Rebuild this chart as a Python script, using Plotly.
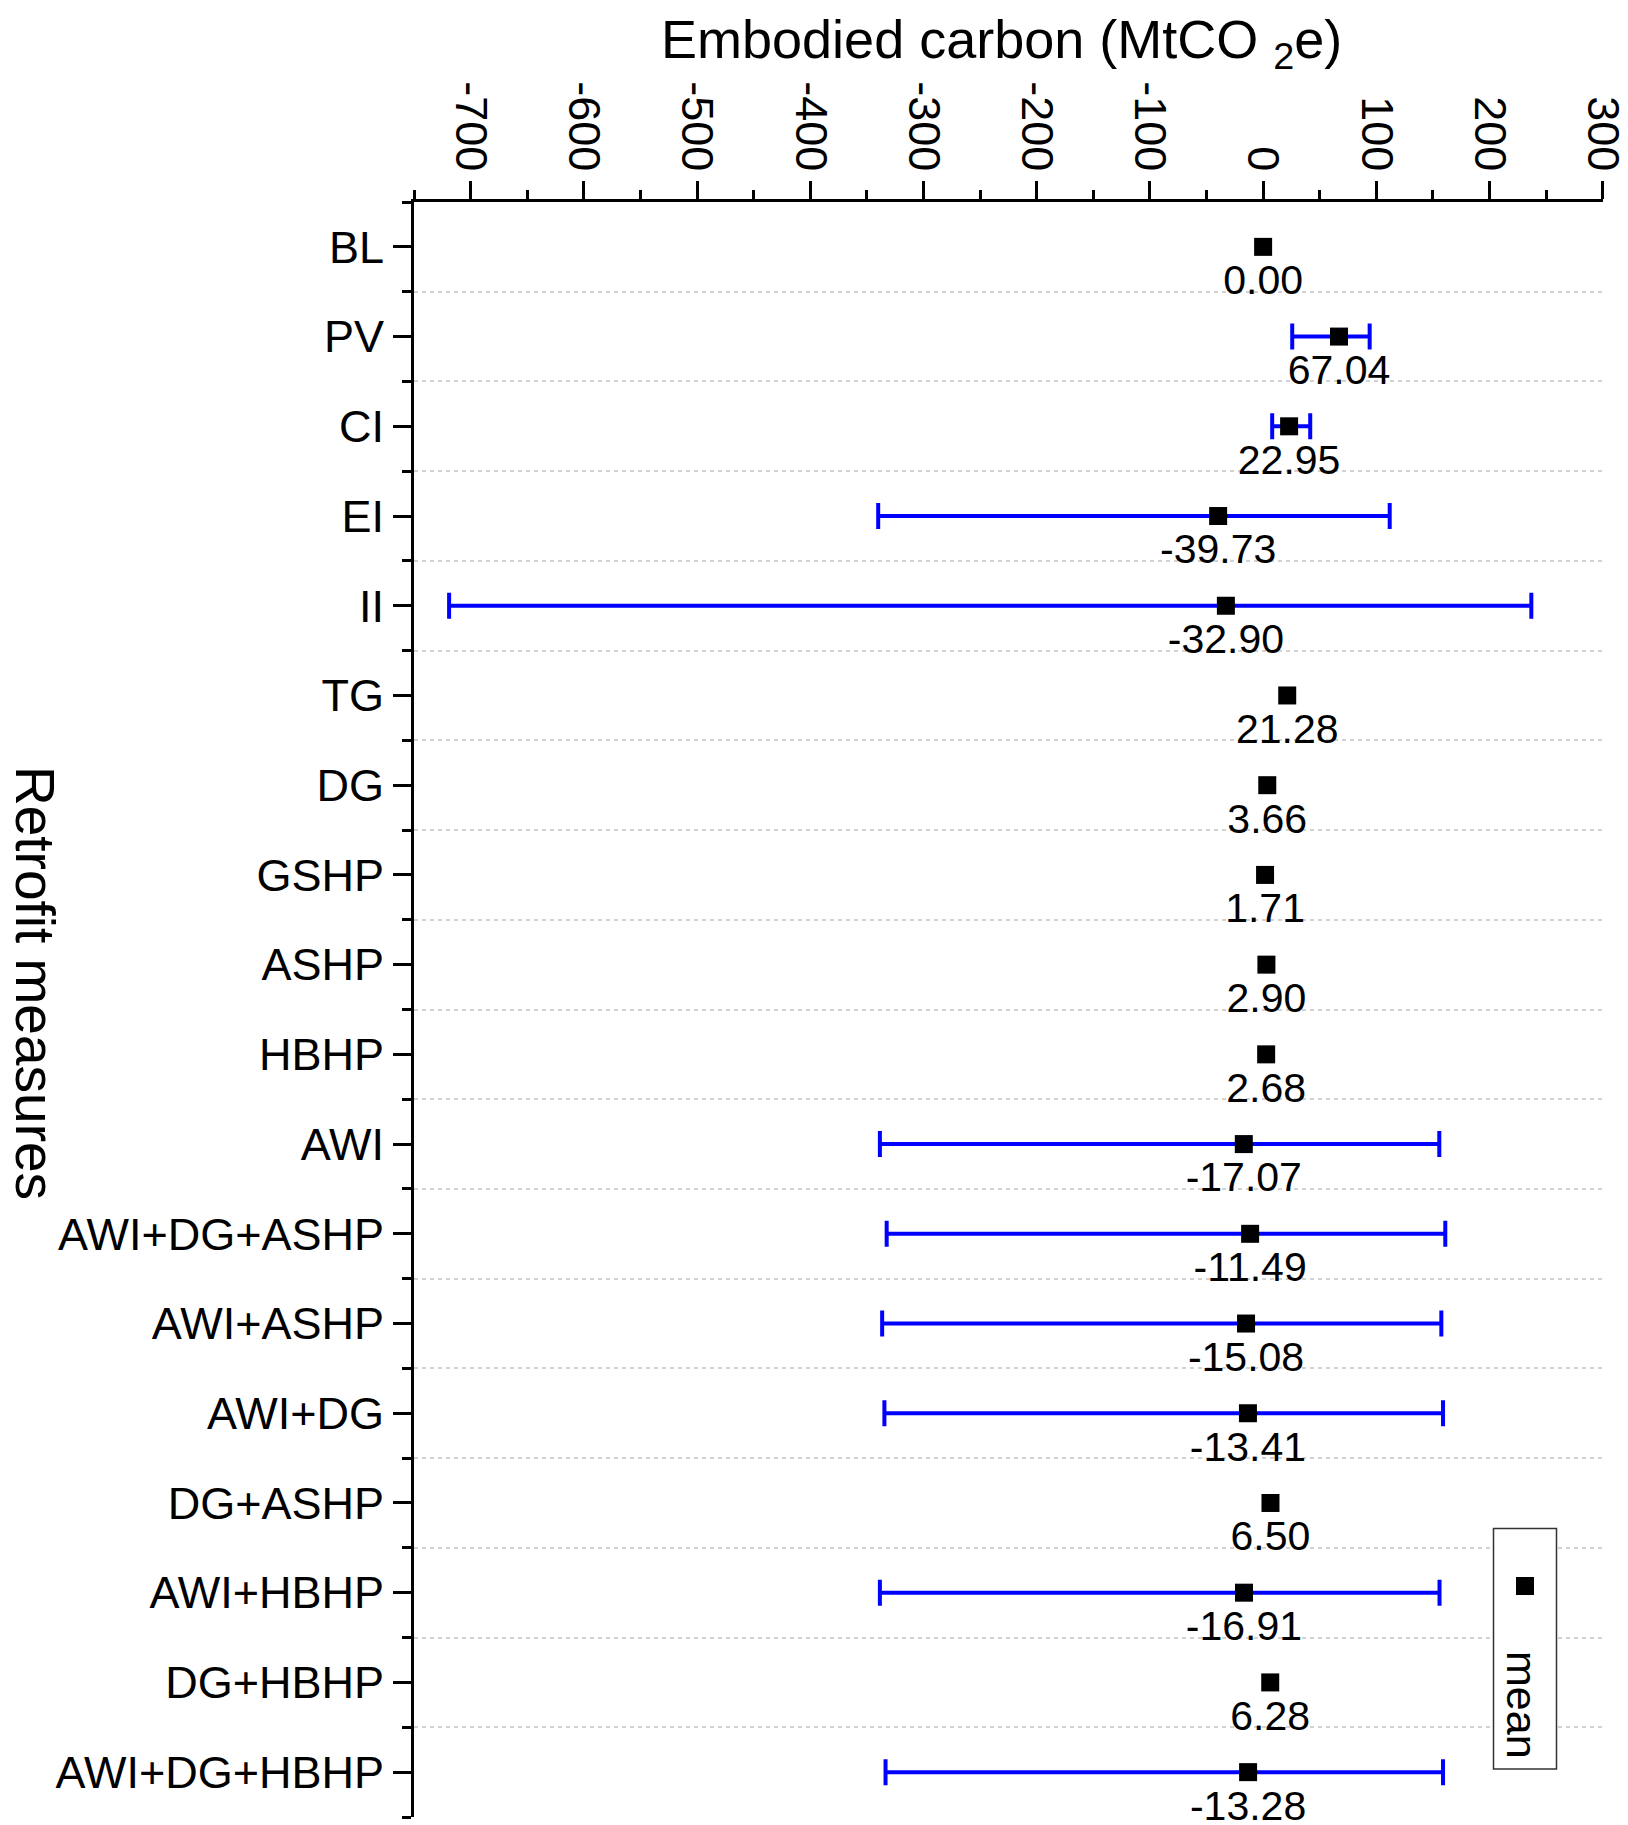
import plotly.graph_objects as go

# ---------------- data ----------------
measures = ["BL", "PV", "CI", "EI", "II", "TG", "DG", "GSHP", "ASHP", "HBHP", "AWI",
            "AWI+DG+ASHP", "AWI+ASHP", "AWI+DG", "DG+ASHP", "AWI+HBHP", "DG+HBHP", "AWI+DG+HBHP"]
mean_vals = [0.00, 67.04, 22.95, -39.73, -32.90, 21.28, 3.66, 1.71, 2.90, 2.68, -17.07,
             -11.49, -15.08, -13.41, 6.50, -16.91, 6.28, -13.28]
lower_vals = [None, 25.7, 8.0, -340.0, -719.0, None, None, None, None, None, -338.5,
              -332.5, -336.5, -334.5, None, -338.5, None, -333.5]
upper_vals = [None, 94.1, 41.6, 111.8, 236.9, None, None, None, None, None, 155.6,
              160.9, 157.4, 158.9, None, 155.8, None, 158.9]

x_ticks = [-700, -600, -500, -400, -300, -200, -100, 0, 100, 200, 300]

# ---------------- geometry helpers ----------------
W, H = 1628, 1825
ML, MR, MT, MB = 414, 25, 202, 8
PW, PH = W - ML - MR, H - MT - MB


def px_x(px):
    return (px - ML) / PW


def px_y(py):
    return (H - MB - py) / PH


FONT = "Liberation Sans, Arial, Helvetica, sans-serif"

idx = list(range(len(measures)))
with_err = [i for i in idx if lower_vals[i] is not None]
no_err = [i for i in idx if lower_vals[i] is None]

fig = go.Figure()
# points with a range (blue error bars)
fig.add_trace(go.Scatter(
    x=[mean_vals[i] for i in with_err], y=with_err, mode="markers",
    marker=dict(symbol="square", size=18, color="black", line=dict(width=0)),
    error_x=dict(type="data", symmetric=False,
                 array=[upper_vals[i] - mean_vals[i] for i in with_err],
                 arrayminus=[mean_vals[i] - lower_vals[i] for i in with_err],
                 color="#0000ff", thickness=4, width=13),
    showlegend=False, cliponaxis=False,
))
# points without a range
fig.add_trace(go.Scatter(
    x=[mean_vals[i] for i in no_err], y=no_err, mode="markers",
    marker=dict(symbol="square", size=18, color="black", line=dict(width=0)),
    showlegend=False, cliponaxis=False,
))
# value labels (transparent marker only used to offset the text)
fig.add_trace(go.Scatter(
    x=mean_vals, y=idx, mode="markers+text",
    marker=dict(symbol="square", size=25, color="rgba(0,0,0,0)", line=dict(width=0)),
    text=[f"{v:.2f}" for v in mean_vals], textposition="bottom center",
    textfont=dict(family=FONT, size=41, color="black"),
    showlegend=False, cliponaxis=False, hoverinfo="skip",
))

fig.update_layout(
    width=W, height=H,
    margin=dict(l=ML, r=MR, t=MT, b=MB, pad=0, autoexpand=False),
    paper_bgcolor="white", plot_bgcolor="white",
    font=dict(family=FONT, color="black"),
    showlegend=False,
    xaxis=dict(
        side="top", range=[-750, 300.2], tickvals=x_ticks, ticktext=[str(v) for v in x_ticks],
        tickangle=90, tickfont=dict(size=45, color="black"),
        ticklabeloverflow="allow", ticklabelstandoff=-6,
        ticks="outside", ticklen=18, tickwidth=3, tickcolor="black",
        showline=True, linewidth=3, linecolor="black",
        showgrid=False, zeroline=False, automargin=False,
        minor=dict(dtick=50, tick0=0, ticks="outside", ticklen=9, tickwidth=3,
                   tickcolor="black", showgrid=False),
    ),
    yaxis=dict(
        range=[len(measures) - 0.5, -0.5], tickvals=idx, ticktext=measures,
        tickfont=dict(size=45, color="black"),
        ticks="outside", ticklen=18, tickwidth=3, tickcolor="black",
        showline=True, linewidth=3, linecolor="black",
        showgrid=False, zeroline=False, automargin=False,
        minor=dict(tickvals=[i + 0.5 for i in range(-1, len(measures))], ticks="outside",
                   ticklen=9, tickwidth=3, tickcolor="black",
                   showgrid=True, gridcolor="#d2d2d2", gridwidth=1.5, griddash="4px,4px"),
    ),
)

# axis titles
fig.add_annotation(text="Embodied carbon (MtCO <sub>2</sub>e)", xref="paper", yref="paper",
                   x=px_x(1001), y=px_y(43), xanchor="center", yanchor="middle",
                   showarrow=False, font=dict(size=54, color="black", family=FONT))
fig.add_annotation(text="Retrofit measures", xref="paper", yref="paper",
                   x=px_x(35), y=px_y(983), xanchor="center", yanchor="middle",
                   showarrow=False, textangle=90,
                   font=dict(size=55, color="black", family=FONT))

# legend (rotated, drawn manually)
fig.add_shape(type="rect", xref="paper", yref="paper",
              x0=px_x(1493.5), x1=px_x(1556.5), y0=px_y(1769), y1=px_y(1528.5),
              line=dict(color="#333333", width=1.5), fillcolor="white", layer="above")
fig.add_shape(type="rect", xref="paper", yref="paper",
              x0=px_x(1516), x1=px_x(1534), y0=px_y(1595), y1=px_y(1577),
              line=dict(width=0), fillcolor="black", layer="above")
fig.add_annotation(text="mean", xref="paper", yref="paper",
                   x=px_x(1522), y=px_y(1705), xanchor="center", yanchor="middle",
                   showarrow=False, textangle=90,
                   font=dict(size=43, color="black", family=FONT))

fig.write_html("out.html",
               config={"displayModeBar": False},
               post_script="document.body.style.margin='0px';"
                           "document.body.style.overflow='hidden';")
